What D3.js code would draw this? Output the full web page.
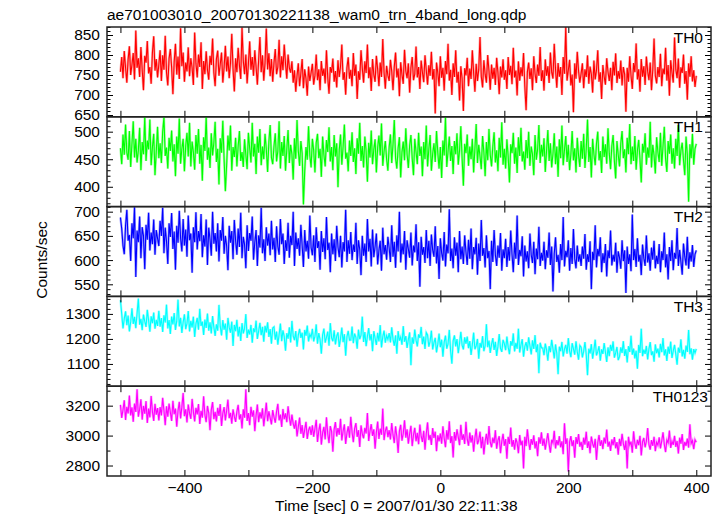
<!DOCTYPE html>
<html><head><meta charset="utf-8">
<script src="https://cdn.jsdelivr.net/npm/d3@7"></script>
<style>
body{margin:0;background:#fff}
svg{display:block}
text{font-family:"Liberation Sans",Arial,Helvetica,sans-serif;fill:#000}
</style>
</head><body>
<svg id="c" width="722" height="516"></svg>
<script>
const titleText = "ae701003010_20070130221138_wam0_trn_4band_long.qdp";
const xLabelText = "Time [sec] 0 = 2007/01/30 22:11:38";
const yLabelText = "Counts/sec";
const tStart = -500, tEnd = 400;
const panelNames = ["TH0", "TH1", "TH2", "TH3", "TH0123"];
const panelColors = ["#ff0000", "#00ff00", "#0000ff", "#00ffff", "#ff00ff"];
const yDomains = [[645.5, 870], [364, 527], [525, 710.5], [1011, 1370], [2730, 3330]];
const yMajorTicks = [[650, 700, 750, 800, 850], [400, 450, 500], [550, 600, 650, 700], [1100, 1200, 1300], [2800, 3000, 3200]];
const yMinorStep = [10, 10, 10, 20, 100];
const xTickValues = [-500, -400, -300, -200, -100, 0, 100, 200, 300, 400];
const xLabelValues = [-400, -200, 0, 200, 400];

// one value every 2 s from -500 to 400
const th0 = [
758,795,742,810,768,731,789,822,750,776,805,739,861,768,792,745,820,763,712,798,781,835,754,770,728,806,847,761,790,744,
776,812,735,799,763,848,757,724,791,815,769,702,783,828,751,796,740,867,772,806,733,781,759,819,747,792,768,725,856,779,
744,801,770,832,715,785,752,809,763,738,798,775,841,756,722,790,811,748,777,806,731,769,823,759,796,742,780,853,765,709,
792,757,818,774,740,869,786,752,801,729,778,834,763,795,748,812,770,726,788,845,757,799,736,781,866,764,804,747,790,733,
781,815,752,770,838,744,797,762,826,779,741,801,768,756,784,731,762,708,748,779,722,755,790,717,764,741,698,771,735,756,
778,726,749,801,737,764,712,785,748,766,729,812,744,703,770,756,791,733,760,719,787,745,772,826,738,757,701,768,794,741,
763,722,805,748,776,690,759,738,812,767,731,784,755,826,742,769,710,790,751,733,798,764,722,781,745,840,757,716,773,749,
735,788,759,712,771,806,744,766,697,782,751,728,813,760,742,779,706,768,795,737,752,821,744,770,715,786,757,732,799,762,
726,774,748,808,739,765,654,781,756,722,797,743,768,711,785,752,828,736,763,700,779,745,812,731,758,686,772,741,660,767,
749,793,722,766,740,812,755,708,778,735,764,845,746,719,787,752,731,800,760,713,776,741,768,725,793,756,702,771,744,789,
738,762,715,795,750,773,727,818,744,761,699,784,736,769,747,805,722,662,758,781,740,767,712,797,753,730,776,748,820,735,
762,711,789,748,772,730,806,757,741,828,764,718,780,746,770,700,795,753,870,736,762,788,724,751,657,779,741,808,760,731,
754,779,717,764,745,799,728,771,752,706,786,739,762,812,733,757,690,775,746,726,792,758,735,768,712,783,749,804,730,760,
741,786,724,770,752,658,768,733,797,748,715,780,757,829,739,764,708,790,746,772,725,796,759,737,781,712,763,841,748,729,
770,745,803,722,766,752,818,736,775,698,787,757,731,844,764,742,791,718,769,755,801,728,760,688,779,746,797,734,762,720,
748];

const th1 = [
470,441,495,458,513,462,449,501,436,478,519,453,487,444,466,507,430,481,459,527,447,484,468,522,439,472,496,421,464,509,
452,479,443,500,526,456,471,433,489,465,502,446,477,419,491,460,524,442,469,487,428,474,498,455,516,437,482,463,431,494,
460,505,442,476,411,490,465,527,449,471,434,497,457,480,518,445,469,404,488,462,520,451,392,440,493,466,511,429,472,454,
489,437,474,501,447,463,436,486,458,432,498,470,444,516,455,478,423,491,462,505,439,473,450,496,468,427,482,512,453,441,
474,497,446,465,519,433,481,456,492,429,468,503,443,476,459,413,488,451,521,465,438,483,461,368,428,472,449,510,457,435,
487,466,426,480,496,452,469,418,491,458,437,485,463,508,446,472,430,494,455,479,399,467,495,440,473,513,451,462,428,484,
456,499,445,470,423,488,460,516,447,474,435,491,464,409,480,453,502,441,468,486,426,471,493,457,515,438,464,483,450,429,
472,495,443,477,521,452,433,470,490,417,463,482,448,506,459,434,475,494,452,421,487,463,441,498,456,473,419,481,450,511,
437,468,494,429,460,479,445,501,462,433,472,416,484,457,526,436,464,491,447,474,423,483,459,497,440,466,510,452,402,478,
461,495,438,473,450,487,426,469,514,443,476,455,432,492,463,419,481,448,505,458,437,474,499,444,466,428,489,453,517,440,
469,433,486,455,408,477,461,498,442,471,425,490,456,507,446,464,431,485,452,500,438,473,459,421,494,449,468,512,443,476,
455,488,427,466,503,447,479,435,460,497,441,473,418,486,452,511,439,467,492,445,476,430,459,501,448,470,426,489,457,436,
483,451,496,434,468,522,445,472,417,487,459,439,478,500,448,465,425,491,454,477,442,506,461,432,474,494,447,415,483,458,
437,479,501,452,468,426,489,459,514,441,473,447,492,431,466,485,450,408,478,462,497,440,471,453,518,435,476,457,424,490,
463,445,498,438,474,509,451,427,483,460,495,442,470,433,487,456,512,439,466,480,448,421,491,458,373,477,452,496,440,469,
478];

const th2 = [
688,665,630,612,671,704,640,652,598,676,645,709,565,661,637,690,604,668,650,581,673,642,698,620,657,633,684,611,662,645,
629,681,650,708,614,667,639,592,676,648,697,623,659,580,671,636,702,645,618,685,630,663,607,692,641,655,574,668,637,699,
622,660,639,695,606,651,628,684,590,667,643,609,700,634,656,618,676,597,662,640,689,613,650,629,579,671,636,660,602,683,
640,611,665,627,698,604,648,632,583,672,619,656,640,690,601,637,662,588,651,626,708,614,643,598,668,630,655,610,681,622,
646,596,670,628,611,685,633,655,592,641,619,677,605,650,631,700,588,657,623,645,609,673,630,586,662,618,640,603,692,626,
610,651,596,668,625,639,580,660,617,645,602,689,621,636,575,655,612,643,598,671,627,606,650,585,637,618,704,596,641,613,
658,600,632,617,677,592,641,622,569,650,609,634,596,685,618,644,587,663,606,628,655,591,620,640,578,667,612,631,601,648,
625,596,672,607,638,584,651,618,700,595,634,612,660,580,641,623,605,657,589,630,616,674,598,637,545,648,611,627,594,662,
604,640,588,653,621,607,670,593,629,561,645,615,599,658,587,632,614,705,598,624,583,647,609,636,575,660,602,628,592,651,
617,590,642,603,665,581,627,612,646,570,634,598,683,609,625,585,651,604,619,540,640,596,662,611,588,630,605,656,578,622,
604,644,586,627,599,661,612,575,636,603,692,590,621,608,649,566,630,597,618,583,655,611,594,638,571,624,602,669,588,615,
599,638,581,620,605,657,590,628,535,613,647,596,611,574,633,600,689,587,619,606,641,578,625,592,664,603,583,630,597,612,
588,628,603,654,580,612,596,639,540,617,600,672,585,623,608,647,575,614,594,633,566,620,604,661,589,611,597,636,574,618,
605,582,641,598,620,532,628,592,612,577,694,600,623,586,645,597,611,569,632,604,588,651,595,614,578,626,601,640,583,609,
592,633,575,618,600,657,585,612,560,627,598,641,579,615,603,666,588,621,596,570,634,607,589,648,582,616,597,631,586,612,
620];

const th3 = [
1355,1300,1242,1281,1310,1255,1293,1230,1268,1322,1260,1288,1243,1302,1361,1257,1280,1235,1297,1270,1248,1316,1274,1229,1290,1263,1305,1241,1276,1252,
1312,1249,1283,1228,1294,1266,1337,1242,1275,1220,1289,1258,1303,1236,1271,1357,1250,1284,1224,1267,1298,1239,1262,1311,1230,1272,1246,1289,1208,1260,
1284,1237,1320,1252,1269,1216,1277,1244,1301,1233,1266,1222,1291,1247,1212,1258,1233,1336,1250,1214,1275,1237,1261,1197,1284,1246,1225,1269,1172,1256,
1231,1276,1210,1248,1192,1263,1222,1242,1299,1204,1237,1218,1256,1185,1242,1227,1273,1200,1231,1264,1215,1248,1189,1252,1226,1266,1208,1239,1181,1244,
1248,1197,1229,1177,1217,1261,1191,1234,1209,1153,1223,1201,1246,1186,1272,1212,1195,1231,1169,1215,1240,1204,1225,1158,1236,1213,1253,1190,1218,1207,
1240,1190,1211,1258,1181,1223,1197,1141,1216,1241,1185,1206,1229,1173,1263,1204,1191,1234,1178,1211,1226,1168,1202,1245,1187,1219,1133,1208,1232,1195,
1196,1249,1183,1221,1206,1161,1237,1199,1215,1289,1188,1227,1171,1210,1243,1194,1219,1151,1231,1202,1176,1224,1190,1255,1166,1208,1233,1185,1213,1198,
1223,1186,1246,1199,1173,1214,1141,1231,1193,1207,1177,1251,1189,1211,1164,1198,1226,1095,1206,1181,1237,1195,1170,1218,1204,1248,1179,1209,1160,1225,
1216,1169,1191,1233,1158,1185,1204,1146,1179,1221,1167,1197,1129,1187,1213,1161,1180,1236,1153,1101,1192,1214,1170,1199,1143,1182,1228,1175,1158,1206,
1181,1209,1163,1191,1136,1177,1225,1159,1172,1200,1121,1184,1165,1211,1151,1173,1259,1167,1193,1144,1178,1203,1156,1188,1132,1170,1219,1162,1148,1196,
1181,1155,1209,1167,1139,1191,1173,1222,1150,1184,1161,1241,1146,1176,1199,1129,1169,1187,1153,1206,1172,1138,1194,1160,1215,1147,1178,1063,1185,1165,
1164,1135,1181,1156,1113,1171,1147,1196,1161,1122,1178,1142,1059,1169,1151,1188,1130,1159,1176,1141,1203,1152,1127,1183,1160,1137,1190,1148,1117,1174,
1167,1126,1151,1187,1138,1055,1161,1142,1179,1121,1156,1197,1134,1149,1171,1113,1158,1140,1183,1147,1108,1166,1131,1176,1152,1190,1125,1144,1168,1115,
1129,1166,1144,1191,1132,1159,1106,1171,1148,1213,1137,1161,1122,1153,1081,1176,1144,1241,1131,1157,1140,1172,1118,1160,1187,1135,1150,1109,1178,1143,
1161,1126,1180,1147,1203,1134,1158,1112,1169,1141,1189,1124,1152,1176,1138,1097,1165,1145,1198,1130,1156,1121,1173,1148,1236,1139,1162,1117,1159,1144,
1160];

const th0123 = [
3205,3118,3172,3236,3104,3192,3148,3268,3135,3188,3092,3214,3158,3310,3126,3175,3243,3107,3198,3146,3230,3085,3180,3122,3265,3160,3098,3212,3140,3184,
3102,3190,3135,3252,3168,3070,3195,3127,3214,3156,3098,3232,3143,3180,3060,3166,3225,3115,3190,3285,3130,3176,3088,3208,3150,3112,3245,3160,3095,3185,
3142,3210,3078,3165,3120,3262,3138,3090,3198,3150,3036,3172,3224,3110,3158,3095,3186,3132,3210,3065,3148,3190,3102,3168,3240,3116,3152,3080,3175,3128,
3092,3160,3205,3108,3142,3048,3175,3120,3310,3098,3150,3070,3192,3126,3168,3030,3135,3208,3090,3155,3115,3182,3062,3138,3220,3096,3162,3118,3075,3170,
3124,3086,3160,3212,3102,3140,3058,3178,3110,3148,3090,3196,3122,3066,3140,3080,3046,3102,2995,3058,3120,3012,3070,2985,3040,3092,2978,3035,3060,3004,
3068,2992,3046,3105,2958,3032,3080,2940,3018,3058,2975,3122,3012,2950,3064,3028,2892,3042,3090,2994,3050,3006,3112,2968,3030,3075,2944,3016,3062,2986,
3126,3022,2956,3046,3084,2992,3036,2924,3068,3012,2982,3052,3014,3150,2964,3030,3076,2998,3042,2912,3022,3094,2978,3046,3006,3180,2970,3032,3060,2990,
3036,2974,3084,3006,2950,3062,2992,2884,3030,3072,2966,3014,3102,2986,3042,2946,3012,3066,2930,3004,3052,2962,3018,2942,3074,2996,2958,3032,2906,3012,
3088,2970,3004,2938,3050,2984,3026,2896,3002,2962,3014,2946,3062,2982,2922,3036,2974,3096,2950,2996,2854,3024,2966,3042,2990,2936,3072,2972,3008,2944,
3092,2976,2932,3020,2954,3002,2892,2984,3046,2942,2970,3026,2916,2992,2874,2962,3012,2940,3064,2956,2922,2986,2950,3036,2912,2968,2996,2882,2960,3012,
2932,2976,2846,2992,2944,3054,2926,2970,2906,2982,2952,2882,3004,2936,2966,2781,2992,2930,3042,2960,2904,2976,2940,3002,2914,2962,2862,2988,2946,3022,
2932,2980,2906,2964,3016,2942,2886,2972,2952,3032,2914,2970,2936,2996,2922,2962,2876,3082,2944,2982,2760,2958,2996,2930,2968,2852,2990,2944,3010,2926,
2958,2904,2986,2940,3026,2918,2962,2882,2994,2946,2920,2978,2838,2952,3004,2932,2968,2910,2986,2948,3040,2926,2960,2898,2974,2936,2990,2915,2956,2872,
2978,2930,3012,2946,2904,2966,2780,2992,2938,2960,2886,3028,2948,2912,2972,2936,2998,2868,2958,2984,2922,2962,3050,2940,2906,2970,2932,2992,2896,2956,
2936,2988,2915,2964,3022,2942,2890,2970,2952,3034,2918,2962,2938,2998,2924,2964,2880,2986,2946,3010,2904,2958,2932,2980,2920,3076,2948,2966,2910,2972,
2955];

const seriesList = [th0, th1, th2, th3, th0123];

// ---- layout ----
const W = 722, H = 516;
const padL = 107, padR = 711, padT = 27, padB = 476;
const nP = panelNames.length;
const panelH = (padB - padT) / nP;
const FS = 15.5;

const svg = d3.select("#c");
svg.append("rect").attr("width", W).attr("height", H).attr("fill", "#fff");

const x = d3.scaleLinear().domain([-521, 423]).range([padL, padR]);

const defs = svg.append("defs");

const styleAxis = sel => {
  sel.select(".domain").remove();
  sel.selectAll(".tick line").attr("stroke", "#000").attr("stroke-width", 1);
  sel.selectAll("text").style("font-size", FS + "px").attr("fill", "#000")
    .style("font-family", '"Liberation Sans", Arial, Helvetica, sans-serif');
};

seriesList.forEach((vals, p) => {
  const y0 = padT + p * panelH;
  const y = d3.scaleLinear().domain(yDomains[p]).range([y0 + panelH, y0]);
  const n = vals.length;
  const dt = (tEnd - tStart) / (n - 1);

  defs.append("clipPath").attr("id", "clip" + p)
    .append("rect").attr("x", padL).attr("y", y0).attr("width", padR - padL).attr("height", panelH);

  const g = svg.append("g").attr("clip-path", "url(#clip" + p + ")");
  const line = d3.line().x((d, i) => x(tStart + i * dt)).y(d => y(d));
  g.append("path").datum(vals).attr("d", line)
    .attr("fill", "none").attr("stroke", panelColors[p]).attr("stroke-opacity", 0.35).attr("stroke-width", 2.4);
  g.append("path").datum(vals).attr("d", line)
    .attr("fill", "none").attr("stroke", panelColors[p]).attr("stroke-width", 1.1);

  const [dmin, dmax] = yDomains[p];
  const minors = d3.range(Math.ceil(dmin / yMinorStep[p]) * yMinorStep[p], dmax + 0.001, yMinorStep[p])
    .filter(v => !yMajorTicks[p].includes(v));

  svg.append("g").attr("transform", `translate(${padL},0)`)
    .call(d3.axisLeft(y).tickValues(yMajorTicks[p]).tickSize(-6).tickPadding(7).tickFormat(d3.format("d")))
    .call(styleAxis);
  svg.append("g").attr("transform", `translate(${padL},0)`)
    .call(d3.axisLeft(y).tickValues(minors).tickSize(-3.5).tickFormat(""))
    .call(styleAxis);
  svg.append("g").attr("transform", `translate(${padR},0)`)
    .call(d3.axisRight(y).tickValues(yMajorTicks[p]).tickSize(-6).tickFormat(""))
    .call(styleAxis);
  svg.append("g").attr("transform", `translate(${padR},0)`)
    .call(d3.axisRight(y).tickValues(minors).tickSize(-3.5).tickFormat(""))
    .call(styleAxis);

  svg.append("g").attr("transform", `translate(0,${y0})`)
    .call(d3.axisTop(x).tickValues(xTickValues).tickSize(-6).tickFormat(""))
    .call(styleAxis);
  const isLast = p === nP - 1;
  svg.append("g").attr("transform", `translate(0,${y0 + panelH})`)
    .call(d3.axisBottom(x).tickValues(xTickValues).tickSize(-6).tickPadding(6)
      .tickFormat(d => (isLast && xLabelValues.includes(d)) ? d3.format("d")(d) : ""))
    .call(styleAxis);

  svg.append("rect").attr("x", padL).attr("y", y0).attr("width", padR - padL).attr("height", panelH)
    .attr("fill", "none").attr("stroke", "#222").attr("stroke-width", 1.5);

  svg.append("text").attr("x", isLast ? 708 : 703).attr("y", y0 + 15.5).attr("text-anchor", "end")
    .style("font-size", FS + "px").text(panelNames[p]);
});

svg.append("text").attr("x", padL).attr("y", 20).style("font-size", FS + "px").text(titleText);
svg.append("text").attr("x", 275).attr("y", 511).style("font-size", FS + "px").text(xLabelText);
svg.append("text").attr("transform", "translate(47,260) rotate(-90)").attr("text-anchor", "middle")
  .style("font-size", FS + "px").text(yLabelText);
</script>
</body></html>
